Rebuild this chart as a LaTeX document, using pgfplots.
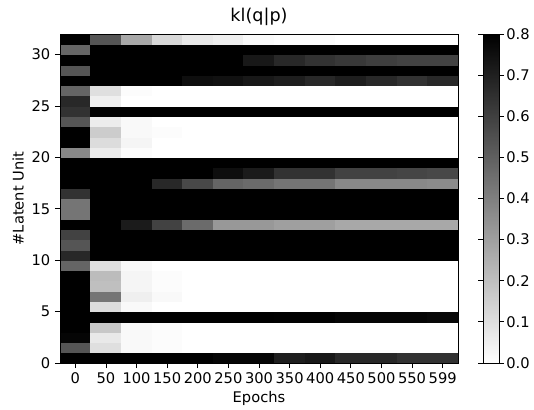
\documentclass[border=0pt]{standalone}
\usepackage{fontspec}
\setmainfont{DejaVu Sans}
\usepackage{pgfplots}
\pgfplotsset{compat=1.18}
\usepackage{pgfplotstable}
\pgfkeys{/pgf/number format/assume math mode=true}

% Cell (i,j) value stored at its lower-left corner (i-0.5, j); last column/row are closing corners.
\pgfplotstableread[row sep=\\]{
x y c\\
-0.5 0 0.80\\ 0.5 0 0.80\\ 1.5 0 0.80\\ 2.5 0 0.80\\ 3.5 0 0.80\\ 4.5 0 0.78\\ 5.5 0 0.78\\ 6.5 0 0.70\\ 7.5 0 0.72\\ 8.5 0 0.67\\ 9.5 0 0.67\\ 10.5 0 0.64\\ 11.5 0 0.64\\ 12.5 0 0\\
-0.5 1 0.53\\ 0.5 1 0.10\\ 1.5 1 0.02\\ 2.5 1 0.01\\ 3.5 1 0.00\\ 4.5 1 0.00\\ 5.5 1 0.00\\ 6.5 1 0.00\\ 7.5 1 0.00\\ 8.5 1 0.00\\ 9.5 1 0.00\\ 10.5 1 0.00\\ 11.5 1 0.00\\ 12.5 1 0\\
-0.5 2 0.78\\ 0.5 2 0.07\\ 1.5 2 0.02\\ 2.5 2 0.01\\ 3.5 2 0.00\\ 4.5 2 0.00\\ 5.5 2 0.00\\ 6.5 2 0.00\\ 7.5 2 0.00\\ 8.5 2 0.00\\ 9.5 2 0.00\\ 10.5 2 0.00\\ 11.5 2 0.00\\ 12.5 2 0\\
-0.5 3 0.80\\ 0.5 3 0.17\\ 1.5 3 0.02\\ 2.5 3 0.01\\ 3.5 3 0.00\\ 4.5 3 0.00\\ 5.5 3 0.00\\ 6.5 3 0.00\\ 7.5 3 0.00\\ 8.5 3 0.00\\ 9.5 3 0.00\\ 10.5 3 0.00\\ 11.5 3 0.00\\ 12.5 3 0\\
-0.5 4 0.80\\ 0.5 4 0.80\\ 1.5 4 0.80\\ 2.5 4 0.80\\ 3.5 4 0.80\\ 4.5 4 0.80\\ 5.5 4 0.80\\ 6.5 4 0.79\\ 7.5 4 0.79\\ 8.5 4 0.78\\ 9.5 4 0.78\\ 10.5 4 0.78\\ 11.5 4 0.77\\ 12.5 4 0\\
-0.5 5 0.80\\ 0.5 5 0.11\\ 1.5 5 0.02\\ 2.5 5 0.00\\ 3.5 5 0.00\\ 4.5 5 0.00\\ 5.5 5 0.00\\ 6.5 5 0.00\\ 7.5 5 0.00\\ 8.5 5 0.00\\ 9.5 5 0.00\\ 10.5 5 0.00\\ 11.5 5 0.00\\ 12.5 5 0\\
-0.5 6 0.80\\ 0.5 6 0.43\\ 1.5 6 0.05\\ 2.5 6 0.02\\ 3.5 6 0.00\\ 4.5 6 0.00\\ 5.5 6 0.00\\ 6.5 6 0.00\\ 7.5 6 0.00\\ 8.5 6 0.00\\ 9.5 6 0.00\\ 10.5 6 0.00\\ 11.5 6 0.00\\ 12.5 6 0\\
-0.5 7 0.80\\ 0.5 7 0.20\\ 1.5 7 0.03\\ 2.5 7 0.01\\ 3.5 7 0.00\\ 4.5 7 0.00\\ 5.5 7 0.00\\ 6.5 7 0.00\\ 7.5 7 0.00\\ 8.5 7 0.00\\ 9.5 7 0.00\\ 10.5 7 0.00\\ 11.5 7 0.00\\ 12.5 7 0\\
-0.5 8 0.80\\ 0.5 8 0.21\\ 1.5 8 0.03\\ 2.5 8 0.01\\ 3.5 8 0.00\\ 4.5 8 0.00\\ 5.5 8 0.00\\ 6.5 8 0.00\\ 7.5 8 0.00\\ 8.5 8 0.00\\ 9.5 8 0.00\\ 10.5 8 0.00\\ 11.5 8 0.00\\ 12.5 8 0\\
-0.5 9 0.48\\ 0.5 9 0.10\\ 1.5 9 0.02\\ 2.5 9 0.00\\ 3.5 9 0.00\\ 4.5 9 0.00\\ 5.5 9 0.00\\ 6.5 9 0.00\\ 7.5 9 0.00\\ 8.5 9 0.00\\ 9.5 9 0.00\\ 10.5 9 0.00\\ 11.5 9 0.00\\ 12.5 9 0\\
-0.5 10 0.67\\ 0.5 10 0.80\\ 1.5 10 0.80\\ 2.5 10 0.80\\ 3.5 10 0.80\\ 4.5 10 0.80\\ 5.5 10 0.80\\ 6.5 10 0.80\\ 7.5 10 0.80\\ 8.5 10 0.80\\ 9.5 10 0.80\\ 10.5 10 0.80\\ 11.5 10 0.80\\ 12.5 10 0\\
-0.5 11 0.53\\ 0.5 11 0.80\\ 1.5 11 0.80\\ 2.5 11 0.80\\ 3.5 11 0.80\\ 4.5 11 0.80\\ 5.5 11 0.80\\ 6.5 11 0.80\\ 7.5 11 0.80\\ 8.5 11 0.80\\ 9.5 11 0.80\\ 10.5 11 0.80\\ 11.5 11 0.80\\ 12.5 11 0\\
-0.5 12 0.59\\ 0.5 12 0.80\\ 1.5 12 0.80\\ 2.5 12 0.80\\ 3.5 12 0.80\\ 4.5 12 0.80\\ 5.5 12 0.80\\ 6.5 12 0.80\\ 7.5 12 0.80\\ 8.5 12 0.80\\ 9.5 12 0.80\\ 10.5 12 0.80\\ 11.5 12 0.80\\ 12.5 12 0\\
-0.5 13 0.80\\ 0.5 13 0.80\\ 1.5 13 0.71\\ 2.5 13 0.59\\ 3.5 13 0.46\\ 4.5 13 0.32\\ 5.5 13 0.32\\ 6.5 13 0.30\\ 7.5 13 0.30\\ 8.5 13 0.27\\ 9.5 13 0.27\\ 10.5 13 0.27\\ 11.5 13 0.27\\ 12.5 13 0\\
-0.5 14 0.43\\ 0.5 14 0.80\\ 1.5 14 0.80\\ 2.5 14 0.80\\ 3.5 14 0.80\\ 4.5 14 0.80\\ 5.5 14 0.80\\ 6.5 14 0.80\\ 7.5 14 0.80\\ 8.5 14 0.80\\ 9.5 14 0.80\\ 10.5 14 0.80\\ 11.5 14 0.80\\ 12.5 14 0\\
-0.5 15 0.43\\ 0.5 15 0.80\\ 1.5 15 0.80\\ 2.5 15 0.80\\ 3.5 15 0.80\\ 4.5 15 0.80\\ 5.5 15 0.80\\ 6.5 15 0.80\\ 7.5 15 0.80\\ 8.5 15 0.80\\ 9.5 15 0.80\\ 10.5 15 0.80\\ 11.5 15 0.80\\ 12.5 15 0\\
-0.5 16 0.64\\ 0.5 16 0.80\\ 1.5 16 0.80\\ 2.5 16 0.80\\ 3.5 16 0.80\\ 4.5 16 0.80\\ 5.5 16 0.80\\ 6.5 16 0.80\\ 7.5 16 0.80\\ 8.5 16 0.80\\ 9.5 16 0.80\\ 10.5 16 0.80\\ 11.5 16 0.80\\ 12.5 16 0\\
-0.5 17 0.80\\ 0.5 17 0.80\\ 1.5 17 0.80\\ 2.5 17 0.67\\ 3.5 17 0.57\\ 4.5 17 0.48\\ 5.5 17 0.46\\ 6.5 17 0.43\\ 7.5 17 0.43\\ 8.5 17 0.37\\ 9.5 17 0.37\\ 10.5 17 0.37\\ 11.5 17 0.36\\ 12.5 17 0\\
-0.5 18 0.80\\ 0.5 18 0.80\\ 1.5 18 0.80\\ 2.5 18 0.80\\ 3.5 18 0.80\\ 4.5 18 0.75\\ 5.5 18 0.71\\ 6.5 18 0.64\\ 7.5 18 0.64\\ 8.5 18 0.59\\ 9.5 18 0.59\\ 10.5 18 0.58\\ 11.5 18 0.57\\ 12.5 18 0\\
-0.5 19 0.80\\ 0.5 19 0.80\\ 1.5 19 0.80\\ 2.5 19 0.80\\ 3.5 19 0.80\\ 4.5 19 0.80\\ 5.5 19 0.80\\ 6.5 19 0.80\\ 7.5 19 0.80\\ 8.5 19 0.80\\ 9.5 19 0.80\\ 10.5 19 0.80\\ 11.5 19 0.80\\ 12.5 19 0\\
-0.5 20 0.37\\ 0.5 20 0.06\\ 1.5 20 0.01\\ 2.5 20 0.00\\ 3.5 20 0.00\\ 4.5 20 0.00\\ 5.5 20 0.00\\ 6.5 20 0.00\\ 7.5 20 0.00\\ 8.5 20 0.00\\ 9.5 20 0.00\\ 10.5 20 0.00\\ 11.5 20 0.00\\ 12.5 20 0\\
-0.5 21 0.80\\ 0.5 21 0.11\\ 1.5 21 0.03\\ 2.5 21 0.00\\ 3.5 21 0.00\\ 4.5 21 0.00\\ 5.5 21 0.00\\ 6.5 21 0.00\\ 7.5 21 0.00\\ 8.5 21 0.00\\ 9.5 21 0.00\\ 10.5 21 0.00\\ 11.5 21 0.00\\ 12.5 21 0\\
-0.5 22 0.80\\ 0.5 22 0.16\\ 1.5 22 0.02\\ 2.5 22 0.01\\ 3.5 22 0.00\\ 4.5 22 0.00\\ 5.5 22 0.00\\ 6.5 22 0.00\\ 7.5 22 0.00\\ 8.5 22 0.00\\ 9.5 22 0.00\\ 10.5 22 0.00\\ 11.5 22 0.00\\ 12.5 22 0\\
-0.5 23 0.53\\ 0.5 23 0.06\\ 1.5 23 0.02\\ 2.5 23 0.00\\ 3.5 23 0.00\\ 4.5 23 0.00\\ 5.5 23 0.00\\ 6.5 23 0.00\\ 7.5 23 0.00\\ 8.5 23 0.00\\ 9.5 23 0.00\\ 10.5 23 0.00\\ 11.5 23 0.00\\ 12.5 23 0\\
-0.5 24 0.64\\ 0.5 24 0.80\\ 1.5 24 0.80\\ 2.5 24 0.80\\ 3.5 24 0.80\\ 4.5 24 0.80\\ 5.5 24 0.80\\ 6.5 24 0.80\\ 7.5 24 0.80\\ 8.5 24 0.80\\ 9.5 24 0.80\\ 10.5 24 0.80\\ 11.5 24 0.80\\ 12.5 24 0\\
-0.5 25 0.67\\ 0.5 25 0.05\\ 1.5 25 0.00\\ 2.5 25 0.00\\ 3.5 25 0.00\\ 4.5 25 0.00\\ 5.5 25 0.00\\ 6.5 25 0.00\\ 7.5 25 0.00\\ 8.5 25 0.00\\ 9.5 25 0.00\\ 10.5 25 0.00\\ 11.5 25 0.00\\ 12.5 25 0\\
-0.5 26 0.48\\ 0.5 26 0.10\\ 1.5 26 0.01\\ 2.5 26 0.00\\ 3.5 26 0.00\\ 4.5 26 0.00\\ 5.5 26 0.00\\ 6.5 26 0.00\\ 7.5 26 0.00\\ 8.5 26 0.00\\ 9.5 26 0.00\\ 10.5 26 0.00\\ 11.5 26 0.00\\ 12.5 26 0\\
-0.5 27 0.80\\ 0.5 27 0.80\\ 1.5 27 0.80\\ 2.5 27 0.80\\ 3.5 27 0.75\\ 4.5 27 0.74\\ 5.5 27 0.72\\ 6.5 27 0.70\\ 7.5 27 0.67\\ 8.5 27 0.70\\ 9.5 27 0.67\\ 10.5 27 0.64\\ 11.5 27 0.67\\ 12.5 27 0\\
-0.5 28 0.53\\ 0.5 28 0.80\\ 1.5 28 0.80\\ 2.5 28 0.80\\ 3.5 28 0.80\\ 4.5 28 0.80\\ 5.5 28 0.80\\ 6.5 28 0.80\\ 7.5 28 0.80\\ 8.5 28 0.80\\ 9.5 28 0.80\\ 10.5 28 0.80\\ 11.5 28 0.80\\ 12.5 28 0\\
-0.5 29 0.80\\ 0.5 29 0.80\\ 1.5 29 0.80\\ 2.5 29 0.80\\ 3.5 29 0.80\\ 4.5 29 0.80\\ 5.5 29 0.72\\ 6.5 29 0.67\\ 7.5 29 0.64\\ 8.5 29 0.62\\ 9.5 29 0.60\\ 10.5 29 0.59\\ 11.5 29 0.59\\ 12.5 29 0\\
-0.5 30 0.48\\ 0.5 30 0.80\\ 1.5 30 0.80\\ 2.5 30 0.80\\ 3.5 30 0.80\\ 4.5 30 0.80\\ 5.5 30 0.80\\ 6.5 30 0.80\\ 7.5 30 0.80\\ 8.5 30 0.80\\ 9.5 30 0.80\\ 10.5 30 0.80\\ 11.5 30 0.80\\ 12.5 30 0\\
-0.5 31 0.80\\ 0.5 31 0.53\\ 1.5 31 0.27\\ 2.5 31 0.12\\ 3.5 31 0.07\\ 4.5 31 0.05\\ 5.5 31 0.02\\ 6.5 31 0.01\\ 7.5 31 0.01\\ 8.5 31 0.00\\ 9.5 31 0.00\\ 10.5 31 0.00\\ 11.5 31 0.00\\ 12.5 31 0\\
-0.5 32 0\\ 0.5 32 0\\ 1.5 32 0\\ 2.5 32 0\\ 3.5 32 0\\ 4.5 32 0\\ 5.5 32 0\\ 6.5 32 0\\ 7.5 32 0\\ 8.5 32 0\\ 9.5 32 0\\ 10.5 32 0\\ 11.5 32 0\\ 12.5 32 0\\
}\kldata

\begin{document}
\begin{tikzpicture}
\begin{axis}[
  name=main,
  scale only axis,
  width=298.5pt, height=246.75pt,
  xmin=-0.5, xmax=12.5, ymin=0, ymax=32,
  enlargelimits=false,
  axis on top,
  xtick={0,1,2,3,4,5,6,7,8,9,10,11,12},
  xticklabels={0,50,100,150,200,250,300,350,400,450,500,550,599},
  ytick={0,5,10,15,20,25,30},
  tick align=outside, tick pos=left,
  major tick length=3.75pt,
  tick style={black, line width=0.6pt},
  axis line style={line width=0.6pt},
  tick label style={font=\fontsize{11}{13}\selectfont},
  xticklabel style={inner xsep=0pt},
  xlabel={Epochs}, ylabel={\#Latent Unit},
  label style={font=\fontsize{11}{13}\selectfont},
  xlabel style={yshift=1pt},
  ylabel style={yshift=-1pt},
  title={kl(q|p)},
  title style={font=\fontsize{13.2}{15}\selectfont, yshift=-3.25pt},
  colormap={bw}{rgb255=(255,255,255) rgb255=(0,0,0)},
  point meta min=0, point meta max=0.8,
  colorbar,
  colorbar shift/.style={},
  colorbar style={
    at={(parent axis.north east)}, anchor=north west, xshift=18.75pt,
    width=12pt,
    ytick={0,0.1,0.2,0.3,0.4,0.5,0.6,0.7,0.8},
    tick align=outside, yticklabel pos=right,
    major tick length=3.75pt,
    tick style={black, line width=0.6pt},
    axis line style={line width=0.6pt},
    tick label style={font=\fontsize{11}{13}\selectfont},
    yticklabel style={inner xsep=1.5pt, /pgf/number format/.cd, fixed, fixed zerofill, precision=1},
  },
]
\addplot[surf, shader=flat corner, mesh/cols=14, point meta=explicit] table[x=x, y=y, meta=c] {\kldata};
\end{axis}
\pgfresetboundingbox
\path[use as bounding box] ([xshift=-45pt, yshift=-35pt]main.south west) rectangle ([xshift=57pt, yshift=25.5pt]main.north east);
\end{tikzpicture}
\end{document}
